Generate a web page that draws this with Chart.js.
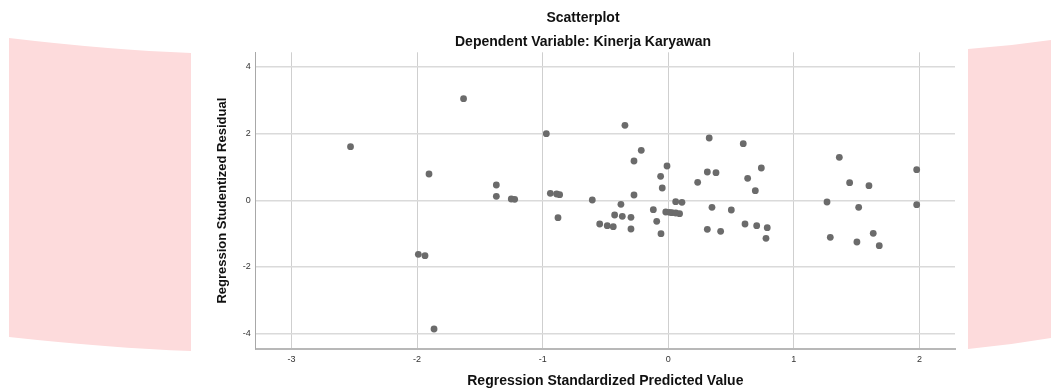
<!DOCTYPE html>
<html>
<head>
<meta charset="utf-8">
<script src="https://cdn.jsdelivr.net/npm/chart.js@4/dist/chart.umd.min.js"></script>
<style>
  html, body { margin: 0; padding: 0; background: #fff; }
  #wrap { width: 1051px; height: 388px; }
</style>
</head>
<body>
<div id="wrap"><canvas id="chart" width="1051" height="388"></canvas></div>
<script>
// predicted value (x) and studentized residual (y)
const predicted = [
  -2.53, -1.63, -1.905, -1.99, -1.937, -1.865, -1.369, -1.369, -1.25, -1.223,
  -0.971, -0.939, -0.889, -0.865, -0.878, -0.605, -0.546, -0.486, -0.438, -0.427,
  -0.377, -0.366, -0.345, -0.297, -0.297, -0.273, -0.273, -0.215, -0.119, -0.092,
  -0.061, -0.048, -0.058, -0.01, -0.02, 0.01, 0.03, 0.06, 0.09, 0.059,
  0.109, 0.234, 0.326, 0.311, 0.38, 0.348, 0.311, 0.417, 0.502, 0.597,
  0.632, 0.611, 0.693, 0.704, 0.741, 0.788, 0.778, 1.264, 1.29, 1.362,
  1.444, 1.516, 1.502, 1.598, 1.632, 1.68, 1.978, 1.978
];
const residual = [
  1.61, 3.05, 0.79, -1.62, -1.66, -3.86, 0.46, 0.12, 0.04, 0.03,
  2.0, 0.21, 0.19, 0.17, -0.52, 0.01, -0.71, -0.76, -0.79, -0.44,
  -0.12, -0.48, 2.25, -0.51, -0.86, 1.18, 0.16, 1.5, -0.28, -0.63,
  0.72, 0.37, -1.0, 1.03, -0.35, -0.36, -0.37, -0.38, -0.40, -0.04,
  -0.06, 0.54, 1.87, 0.85, 0.83, -0.21, -0.87, -0.93, -0.29, 1.70,
  0.66, -0.71, 0.29, -0.76, 0.97, -0.82, -1.14, -0.05, -1.11, 1.29,
  0.53, -0.21, -1.25, 0.44, -0.99, -1.36, 0.92, -0.13
];
const xTicks = [-3, -2, -1, 0, 1, 2];
const yTicks = [-4, -2, 0, 2, 4];

const points = predicted.map((x, i) => ({ x: x, y: residual[i] }));

// pink page fragments on both sides of the figure
const sidePanels = {
  id: 'sidePanels',
  beforeDraw(chart) {
    const c = chart.ctx;
    c.save();
    c.fillStyle = 'rgb(253,219,220)';
    c.beginPath();
    c.moveTo(9, 38);
    c.quadraticCurveTo(110, 50, 191, 53);
    c.lineTo(191, 351);
    c.quadraticCurveTo(110, 348, 9, 337);
    c.closePath();
    c.fill();
    c.beginPath();
    c.moveTo(968, 49);
    c.quadraticCurveTo(1010, 46, 1051, 40);
    c.lineTo(1051, 338);
    c.quadraticCurveTo(1010, 345, 968, 349);
    c.closePath();
    c.fill();
    c.restore();
  }
};

const fam = 'Liberation Sans, Arial, sans-serif';

new Chart(document.getElementById('chart'), {
  type: 'scatter',
  data: {
    datasets: [{
      data: points,
      backgroundColor: '#6b6b6b',
      borderColor: '#6b6b6b',
      borderWidth: 0,
      pointRadius: 3.4,
      pointHoverRadius: 3.4
    }]
  },
  options: {
    responsive: false,
    animation: false,
    layout: { padding: { left: 211, right: 96, top: 0, bottom: 0 } },
    plugins: {
      legend: { display: false },
      tooltip: { enabled: false },
      title: {
        display: true,
        text: 'Scatterplot',
        color: '#111',
        font: { family: fam, size: 14, weight: 'bold' },
        padding: { top: 9.6, bottom: 0 }
      },
      subtitle: {
        display: true,
        text: 'Dependent Variable: Kinerja Karyawan',
        color: '#111',
        font: { family: fam, size: 14, weight: 'bold' },
        padding: { top: 7.2, bottom: 1.9 }
      }
    },
    scales: {
      x: {
        type: 'linear',
        min: -3.285,
        max: 2.283,
        afterBuildTicks: s => { s.ticks = xTicks.map(v => ({ value: v })); },
        afterFit: s => { s.height = 39; },
        border: { display: true, color: '#b8b8b8', width: 2 },
        grid: { color: '#cfcfcf', lineWidth: 1, drawTicks: false },
        ticks: {
          color: '#333',
          padding: 5,
          font: { family: fam, size: 9 }
        },
        title: {
          display: true,
          text: 'Regression Standardized Predicted Value',
          color: '#111',
          font: { family: fam, size: 14, weight: 'bold', lineHeight: 1 },
          padding: { top: 0, bottom: 0 }
        }
      },
      y: {
        type: 'linear',
        min: -4.46,
        max: 4.44,
        afterBuildTicks: s => { s.ticks = yTicks.map(v => ({ value: v })); },
        afterFit: s => { s.width = 44.7; },
        border: { display: true, color: '#a8a8a8', width: 1 },
        grid: { color: '#dadada', lineWidth: 1.5, drawTicks: false },
        ticks: {
          color: '#333',
          padding: 5,
          font: { family: fam, size: 9 }
        },
        title: {
          display: true,
          text: 'Regression Studentized Residual',
          color: '#111',
          font: { family: fam, size: 13, weight: 'bold' },
          padding: { top: 4, bottom: 0 }
        }
      }
    }
  },
  plugins: [sidePanels]
});
</script>
</body>
</html>
